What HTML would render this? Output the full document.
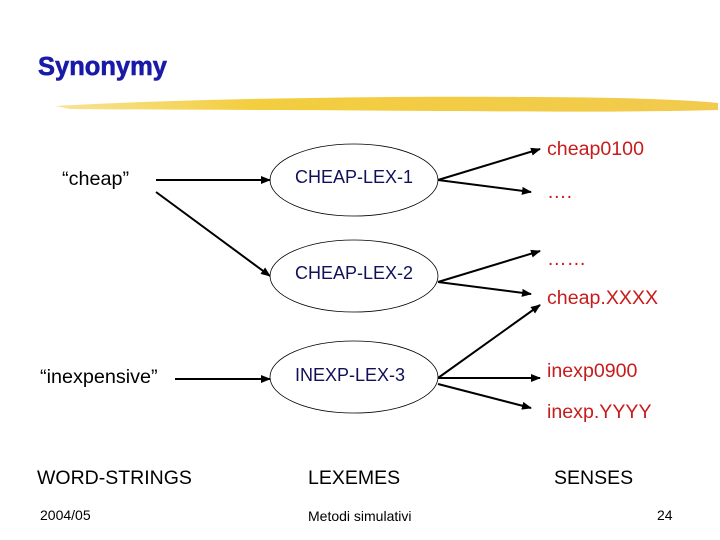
<!DOCTYPE html>
<html><head><meta charset="utf-8"><style>
body{margin:0;background:#fff}
svg{display:block}
text{font-family:"Liberation Sans",Arial,sans-serif}
</style></head><body>
<svg width="720" height="540" viewBox="0 0 720 540" xmlns="http://www.w3.org/2000/svg">
<defs>
<marker id="a" markerWidth="10" markerHeight="8" refX="9" refY="4" orient="auto" markerUnits="userSpaceOnUse">
<path d="M0,0 L10,4 L0,8 Z" fill="#000"/></marker>
<linearGradient id="g" x1="0" x2="1"><stop offset="0" stop-color="#f7e08a"/><stop offset="0.3" stop-color="#f2c829"/><stop offset="1" stop-color="#f0c43a"/></linearGradient>
</defs>
<text x="38" y="75" font-size="25.5" font-weight="bold" fill="#1a1aa8" stroke="#1a1aa8" stroke-width="0.6">Synonymy</text>
<path d="M55,106 C200,98 400,96 520,97 C600,97 680,99 718,103 L718,110 C640,112 560,112 460,111 C300,110 180,110 70,109 Z" fill="url(#g)" opacity="0.9"/>
<g fill="none" stroke="#000" stroke-width="0.8">
<ellipse cx="354" cy="180" rx="84" ry="36"/>
<ellipse cx="354" cy="276" rx="84" ry="36"/>
<ellipse cx="354" cy="377" rx="84" ry="36"/>
</g>
<g stroke="#000" stroke-width="2" marker-end="url(#a)">
<line x1="156" y1="180" x2="270" y2="180"/>
<line x1="156" y1="192" x2="270" y2="276"/>
<line x1="175" y1="379" x2="270" y2="379"/>
<line x1="438" y1="180" x2="540" y2="149"/>
<line x1="438" y1="180" x2="531" y2="192"/>
<line x1="438" y1="282" x2="540" y2="251"/>
<line x1="438" y1="282" x2="531" y2="294"/>
<line x1="438" y1="378" x2="540" y2="305"/>
<line x1="438" y1="378" x2="540" y2="378"/>
<line x1="438" y1="384" x2="531" y2="408"/>
</g>
<g font-size="19.8" fill="#000">
<text x="62" y="185">“cheap”</text>
<text x="40" y="383">“inexpensive”</text>
</g>
<g font-size="18" fill="#10105a">
<text x="295" y="183">CHEAP-LEX-1</text>
<text x="295" y="279">CHEAP-LEX-2</text>
<text x="295" y="381">INEXP-LEX-3</text>
</g>
<g font-size="19.6" fill="#c81c1c">
<text x="547" y="155">cheap0100</text>
<text x="547" y="198">….</text>
<text x="547" y="265">……</text>
<text x="547" y="304">cheap.XXXX</text>
<text x="547" y="377">inexp0900</text>
<text x="547" y="418">inexp.YYYY</text>
</g>
<g font-size="19.5" fill="#000">
<text x="37" y="484">WORD-STRINGS</text>
<text x="308" y="484">LEXEMES</text>
<text x="554" y="484">SENSES</text>
</g>
<g font-size="14" fill="#000">
<text x="40" y="520">2004/05</text>
<text x="308" y="521">Metodi simulativi</text>
<text x="657" y="520">24</text>
</g>
</svg>
</body></html>
